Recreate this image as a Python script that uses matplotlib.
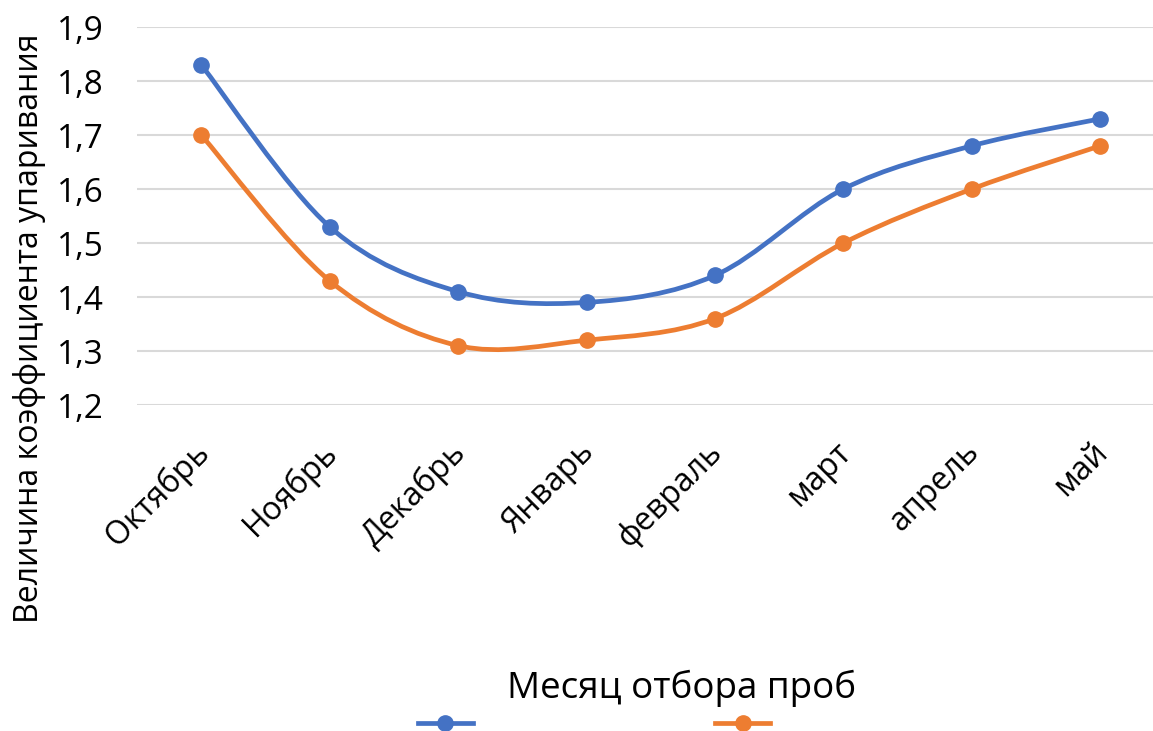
import matplotlib.pyplot as plt
from matplotlib.path import Path
from matplotlib.patches import PathPatch
from matplotlib.lines import Line2D
from matplotlib.transforms import ScaledTranslation
import numpy as np

# данные с графика
months = ["Октябрь", "Ноябрь", "Декабрь", "Январь", "февраль", "март", "апрель", "май"]
series_1 = [1.83, 1.53, 1.41, 1.39, 1.44, 1.60, 1.68, 1.73]
series_2 = [1.70, 1.43, 1.31, 1.32, 1.36, 1.50, 1.60, 1.68]
y_ticks = [1.2, 1.3, 1.4, 1.5, 1.6, 1.7, 1.8, 1.9]
y_tick_labels = ["1,2", "1,3", "1,4", "1,5", "1,6", "1,7", "1,8", "1,9"]

blue = "#4472C4"
orange = "#ED7D31"

plt.rcParams["font.family"] = ["Open Sans", "DejaVu Sans"]


# сглаженная линия как в Excel (кривые Безье через точки)
def smooth_path(xs, ys):
    pts = np.column_stack([xs, ys]).astype(float)
    n = len(pts)
    verts = [pts[0]]
    codes = [Path.MOVETO]
    for i in range(n - 1):
        p0 = pts[i - 1] if i > 0 else pts[i]
        p1 = pts[i]
        p2 = pts[i + 1]
        p3 = pts[i + 2] if i + 2 < n else pts[i + 1]
        c1 = p1 + (p2 - p0) / 6
        c2 = p2 - (p3 - p1) / 6
        verts += [c1, c2, p2]
        codes += [Path.CURVE4] * 3
    return Path(verts, codes)


W, H = 1153, 731
fig = plt.figure(figsize=(W / 100, H / 100), dpi=100)
ax = fig.add_axes([137 / W, 1 - 405 / H, 1 - 137 / W, (405 - 27) / H])

x = np.arange(len(months))
for vals, col in [(series_1, blue), (series_2, orange)]:
    ax.add_patch(PathPatch(smooth_path(x, vals), facecolor="none",
                           edgecolor=col, lw=3.4, capstyle="round", zorder=3))
    ax.plot(x, vals, ls="none", marker="o", ms=11, color=col, zorder=4)

ax.set_xlim(-0.5, 7.41)
ax.set_ylim(1.2, 1.9)
ax.set_yticks(y_ticks)
ax.set_yticklabels(y_tick_labels, fontsize=24)
ax.set_xticks(x)
ax.set_xticklabels(months, fontsize=23, rotation=45, ha="right", va="top",
                   rotation_mode="anchor")
ax.tick_params(axis="both", length=0, colors="black")
ax.tick_params(axis="x", pad=22)
ax.tick_params(axis="y", pad=24)
for lbl in ax.get_xticklabels():
    lbl.set_transform(lbl.get_transform() + ScaledTranslation(-9 / 100, 0, fig.dpi_scale_trans))
ax.grid(axis="y", color="#D9D9D9", lw=1.5)
ax.set_axisbelow(True)
for s in ax.spines.values():
    s.set_visible(False)

fig.text(30 / W, 1 - 328 / H, "Величина коэффициента упаривания", rotation=90,
         ha="center", va="center", fontsize=23)
fig.text(682 / W, 1 - 688 / H, "Месяц отбора проб", ha="center", va="center",
         fontsize=26.5)

handles = [Line2D([], [], color=blue, lw=3.4, marker="o", ms=11),
           Line2D([], [], color=orange, lw=3.4, marker="o", ms=11)]
fig.legend(handles, ["", ""], loc="center", bbox_to_anchor=(594 / W, 1 - 726 / H),
           ncol=2, frameon=False, fontsize=20, handlelength=2, handletextpad=0,
           columnspacing=8.7)

fig.savefig("out.png", dpi=100)
plt.close(fig)
